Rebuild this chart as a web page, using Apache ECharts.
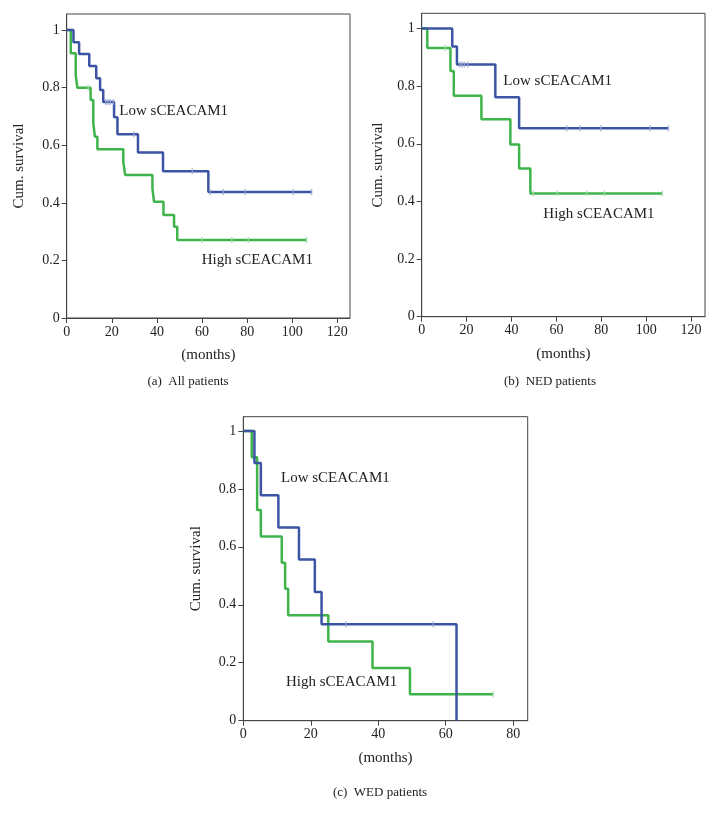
<!DOCTYPE html>
<html><head><meta charset="utf-8">
<script src="https://cdn.jsdelivr.net/npm/echarts@6/dist/echarts.min.js"></script>
<style>html,body{margin:0;padding:0;background:#fff}#c{width:728px;height:813px}</style>
</head><body><div id="c"></div>
<script>
// ---- Data (months, cumulative survival) ----
// (a) All patients
const aLowT  = [0, 3, 5.5, 10, 13.1, 14.8, 16.2, 21, 22.5, 31.6, 42.7, 62.8, 108.6];
const aLowS  = [1, 0.958, 0.917, 0.875, 0.833, 0.792, 0.75, 0.697, 0.638, 0.575, 0.51, 0.4375, 0.4375];
const aLowCens = [17.3, 18.3, 19.3, 20.7, 29.8, 55.7, 63.6, 69.4, 79.1, 100.5, 108.6];
const aHighT = [0, 1.8, 4.0, 4.7, 10.6, 11.8, 12.5, 13.6, 25.1, 25.9, 38, 38.7, 42.9, 47.6, 49, 106.4];
const aHighS = [1, 0.92, 0.844, 0.80, 0.757, 0.676, 0.63, 0.586, 0.543, 0.497, 0.45, 0.404, 0.358, 0.317, 0.271, 0.271];
const aHighCens = [9.5, 59.9, 73.2, 80.5, 106.4];
// (b) NED patients
const bLowT  = [0, 13.6, 15.7, 32.8, 43.4, 109.9];
const bLowS  = [1, 0.9375, 0.875, 0.762, 0.654, 0.654];
const bLowCens = [17, 18, 19, 20.5, 64.6, 70.5, 79.8, 101.7, 109.9];
const bHighT = [0, 2.5, 12.8, 14.3, 26.6, 39.5, 43.4, 48.4, 107.2];
const bHighS = [1, 0.933, 0.853, 0.767, 0.685, 0.598, 0.514, 0.428, 0.428];
const bHighCens = [10.5, 49.7, 60.4, 73.5, 81.4, 107.2];
// (c) WED patients
const cLowT  = [0, 3.3, 5.2, 10.4, 16.5, 21.2, 23.2, 63.2];
const cLowS  = [1, 0.889, 0.778, 0.667, 0.556, 0.444, 0.333, 0];
const cLowCens = [30.4, 56.3];
const cHighT = [0, 2.5, 4.1, 5.2, 11.4, 12.4, 13.3, 25.2, 38.3, 49.4, 74.1];
const cHighS = [1, 0.909, 0.727, 0.636, 0.545, 0.455, 0.364, 0.273, 0.182, 0.091, 0.091];
const cHighCens = [74.1];

const yTicks = [0, 0.2, 0.4, 0.6, 0.8, 1];
const xTicksAB = [0, 20, 40, 60, 80, 100, 120];
const xTicksC = [0, 20, 40, 60, 80];
const lowLabel = 'Low sCEACAM1', highLabel = 'High sCEACAM1';
const captions = ['(a)  All patients', '(b)  NED patients', '(c)  WED patients'];

// ---- Build ----
const FONT = 'Liberation Serif';
const BLUE = '#3b54a3', GREEN = '#3fb44b';
const BLUE_C = '#9aa8d2', GREEN_C = '#a8dcae';

function pairs(t, s) { return t.map((x, i) => [x, s[i]]); }
function survAt(t, s, x) { let v = s[0]; for (let i = 0; i < t.length; i++) { if (t[i] <= x) v = s[i]; } return v; }
function cens(t, s, c) { return c.map(x => [x, survAt(t, s, x)]); }

const grids = [
  { left: 66.7, top: 14, width: 283.3, height: 304, xmax: 125.6, ymax: 1.056, xt: xTicksAB, ygap: 40 },
  { left: 421.7, top: 13.3, width: 283.3, height: 303.4, xmax: 126.2, ymax: 1.053, xt: xTicksAB, ygap: 36 },
  { left: 243.3, top: 416.7, width: 284.4, height: 304, xmax: 84.3, ymax: 1.049, xt: xTicksC, ygap: 40 }
];
const lab = { fontFamily: FONT, fontSize: 14, color: '#222' };
const option = {
  animation: false,
  backgroundColor: '#fff',
  grid: grids.map(g => ({ left: g.left, top: g.top, width: g.width, height: g.height, show: true, borderColor: '#444', borderWidth: 1, backgroundColor: 'transparent', containLabel: false })),
  xAxis: grids.map((g, i) => ({
    type: 'value', gridIndex: i, min: 0, max: g.xmax,
    name: '(months)', nameLocation: 'middle', nameGap: 30,
    nameTextStyle: { fontFamily: FONT, fontSize: 15, color: '#222' },
    axisLine: { show: true, lineStyle: { color: '#444', width: 1 } },
    axisTick: { show: true, length: 5, customValues: g.xt, lineStyle: { color: '#444' } },
    axisLabel: { customValues: g.xt, margin: 7, ...lab },
    splitLine: { show: false }
  })),
  yAxis: grids.map((g, i) => ({
    type: 'value', gridIndex: i, min: 0, max: g.ymax,
    name: 'Cum. survival', nameLocation: 'middle', nameGap: g.ygap, nameRotate: 90,
    nameTextStyle: { fontFamily: FONT, fontSize: 15, color: '#222' },
    axisLine: { show: true, lineStyle: { color: '#444', width: 1 } },
    axisTick: { show: true, length: 5, customValues: yTicks, lineStyle: { color: '#444' } },
    axisLabel: { customValues: yTicks, margin: 7, ...lab, formatter: v => (v === 0 || v === 1) ? String(v) : v.toFixed(1) },
    splitLine: { show: false }
  })),
  series: []
};
const sets = [
  [aLowT, aLowS, aLowCens, aHighT, aHighS, aHighCens],
  [bLowT, bLowS, bLowCens, bHighT, bHighS, bHighCens],
  [cLowT, cLowS, cLowCens, cHighT, cHighS, cHighCens]
];
sets.forEach((d, i) => {
  const [lt, ls, lc, ht, hs, hc] = d;
  option.series.push(
    { type: 'line', xAxisIndex: i, yAxisIndex: i, step: 'end', data: pairs(ht, hs), showSymbol: false, lineStyle: { color: GREEN, width: 2.5 }, z: 2 },
    { type: 'line', xAxisIndex: i, yAxisIndex: i, step: 'end', data: pairs(lt, ls), showSymbol: false, lineStyle: { color: BLUE, width: 2.5 }, z: 3 },
    { type: 'scatter', xAxisIndex: i, yAxisIndex: i, data: cens(ht, hs, hc), symbol: 'rect', symbolSize: [1.5, 6], itemStyle: { color: GREEN_C }, z: 4 },
    { type: 'scatter', xAxisIndex: i, yAxisIndex: i, data: cens(lt, ls, lc), symbol: 'rect', symbolSize: [1.5, 6], itemStyle: { color: BLUE_C }, z: 4 }
  );
});
const txt = (x, y, s, size, align) => ({ type: 'text', x: x, y: y, style: { text: s, fontFamily: FONT, fontSize: size, fill: '#222', textAlign: align || 'left', textVerticalAlign: 'middle' } });
option.graphic = [
  txt(119.3, 111, lowLabel, 15), txt(201.7, 260, highLabel, 15),
  txt(503.3, 81, lowLabel, 15), txt(543.3, 214.3, highLabel, 15),
  txt(281, 477.7, lowLabel, 15), txt(286, 682.3, highLabel, 15),
  txt(188, 382, captions[0], 13, 'center'), txt(550, 382, captions[1], 13, 'center'), txt(380, 793, captions[2], 13, 'center')
];
const chart = echarts.init(document.getElementById('c'), null, { renderer: 'canvas' });
chart.setOption(option);
</script></body></html>
